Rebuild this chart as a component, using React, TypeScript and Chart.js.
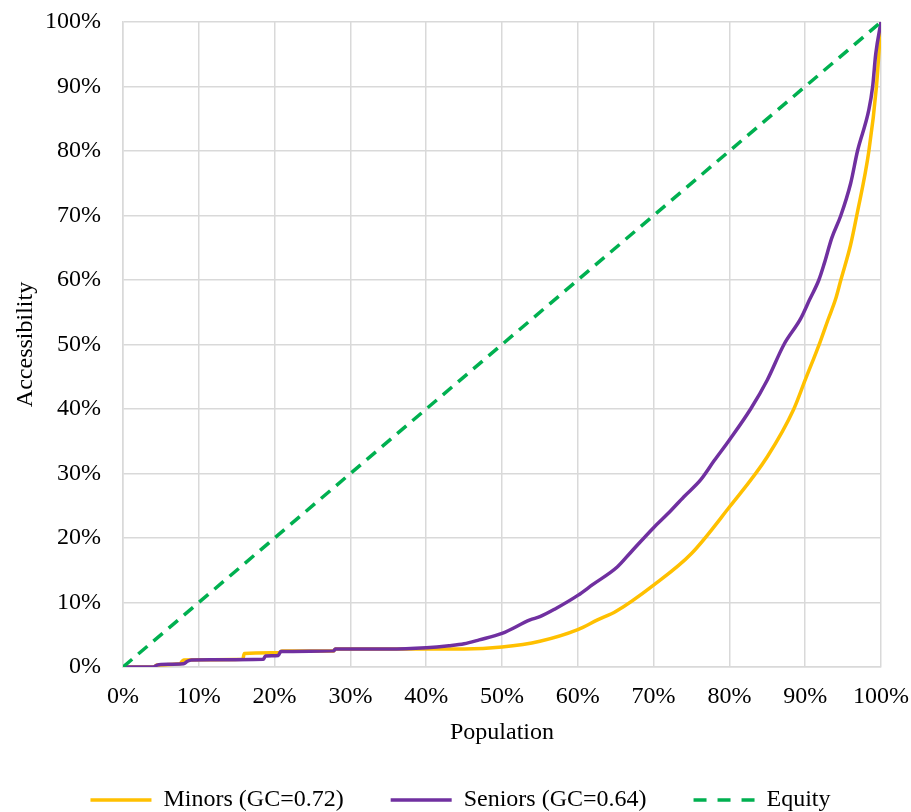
import React, { useEffect, useRef } from "react";
import { Chart, registerables } from "chart.js";

Chart.register(...registerables);

const minorsX = [0, 4, 4.5, 7.5, 8, 15.8, 16, 20.5, 21, 27.8, 28, 35, 40, 45, 50, 55, 60, 62.6, 65, 70, 75, 80, 85, 88.5, 90, 92, 93, 94, 94.7, 96, 96.8, 98.4, 99.4, 100];
const minorsY = [0, 0, 0.3, 0.5, 1.1, 1.2, 2.1, 2.2, 2.5, 2.5, 2.8, 2.8, 2.8, 2.8, 3.1, 4.0, 5.8, 7.3, 8.6, 12.7, 17.6, 24.8, 32.6, 40, 44.5, 50.5, 53.8, 57, 60, 65.5, 70, 80, 90, 100];

const seniorsX = [0, 4, 4.5, 5, 8, 8.5, 9, 18.5, 18.8, 20.5, 20.8, 27.8, 28, 35, 40, 43, 45, 47, 50, 53.7, 55, 57, 60, 62, 65.2, 67, 70, 72, 74, 76.2, 78, 80, 82.8, 85, 87.2, 89.4, 90.6, 91.8, 92.5, 93.5, 94.7, 96, 96.9, 98.4, 98.9, 99.3, 100];
const seniorsY = [0, 0, 0.3, 0.4, 0.5, 0.9, 1.1, 1.2, 1.7, 1.8, 2.4, 2.5, 2.8, 2.8, 3.0, 3.3, 3.6, 4.2, 5.2, 7.3, 7.8, 9.0, 11.1, 12.8, 15.5, 17.8, 21.6, 23.9, 26.4, 29, 32, 35.2, 40, 44.5, 50, 54, 57, 60, 62.5, 66.5, 70, 75, 80, 86.4, 90, 95, 100];

const equityX = [0, 100];
const equityY = [0, 100];

const seriesNames = ["Minors (GC=0.72)", "Seniors (GC=0.64)", "Equity"];
const seriesColors = ["#FFC000", "#7030A0", "#00B050"];

const toPts = (xs: number[], ys: number[]) => xs.map((x, i) => ({ x, y: ys[i] }));

export default function App() {
  const ref = useRef<HTMLCanvasElement | null>(null);
  useEffect(() => {
    document.body.style.margin = "0";
    const font = { family: "'Liberation Serif', 'Times New Roman', serif", size: 24 };
    const chart = new Chart(ref.current as HTMLCanvasElement, {
      type: "line",
      data: {
        datasets: [
          {
            label: seriesNames[0],
            data: toPts(minorsX, minorsY),
            borderColor: seriesColors[0],
            backgroundColor: seriesColors[0],
            borderWidth: 3.5,
            pointRadius: 0,
            cubicInterpolationMode: "monotone",
            order: 2,
          },
          {
            label: seriesNames[1],
            data: toPts(seniorsX, seniorsY),
            borderColor: seriesColors[1],
            backgroundColor: seriesColors[1],
            borderWidth: 3.5,
            pointRadius: 0,
            cubicInterpolationMode: "monotone",
            order: 1,
          },
          {
            label: seriesNames[2],
            data: toPts(equityX, equityY),
            borderColor: seriesColors[2],
            backgroundColor: seriesColors[2],
            borderWidth: 3.5,
            borderDash: [12, 8],
            pointRadius: 0,
            order: 0,
          },
        ],
      },
      options: {
        animation: false,
        responsive: false,
        layout: { padding: { top: 0, right: 0, left: 10, bottom: -10 } },
        plugins: {
          tooltip: { enabled: false },
          legend: {
            position: "bottom",
            labels: {
              font,
              color: "#000",
              boxWidth: 61,
              boxHeight: 0,
              padding: 47,
              sort: (a: any, b: any) => a.datasetIndex - b.datasetIndex,
              generateLabels: (chart: any) =>
                chart.data.datasets.map((ds: any, i: number) => ({
                  text: ds.label,
                  fillStyle: ds.borderColor,
                  strokeStyle: ds.borderColor,
                  lineWidth: 3.5,
                  lineDash: ds.borderDash ? [13, 11, 13, 11, 13, 400] : [],
                  datasetIndex: i,
                  fontColor: "#000",
                })),
            },
          },
        },
        scales: {
          x: {
            type: "linear",
            min: 0,
            max: 100,
            ticks: { stepSize: 10, font, color: "#000", callback: (v: any) => v + "%", padding: 15 },
            grid: { color: "#D9D9D9", lineWidth: 1.5, drawTicks: false },
            border: { color: "#D9D9D9", width: 1.5 },
            title: { display: true, text: "Population", font, color: "#000", padding: { top: 0, bottom: -6 } },
            afterFit: (scale: any) => {
              scale.height = 74;
              scale.paddingLeft = 0;
              scale.paddingRight = 30;
            },
          },
          y: {
            type: "linear",
            min: 0,
            max: 100,
            ticks: { stepSize: 10, font, color: "#000", callback: (v: any) => v + "%", padding: 22 },
            grid: { color: "#D9D9D9", lineWidth: 1.5, drawTicks: false },
            border: { color: "#D9D9D9", width: 1.5 },
            title: { display: true, text: "Accessibility", font, color: "#000", padding: { top: 1, bottom: 4 } },
            afterFit: (scale: any) => {
              scale.width = 113;
              scale.paddingTop = 22;
              scale.paddingBottom = 0;
            },
          },
        },
      },
    });
    return () => chart.destroy();
  }, []);
  return (
    <div style={{ width: 911, height: 812 }}>
      <canvas ref={ref} width={911} height={812} style={{ display: "block" }} />
    </div>
  );
}
